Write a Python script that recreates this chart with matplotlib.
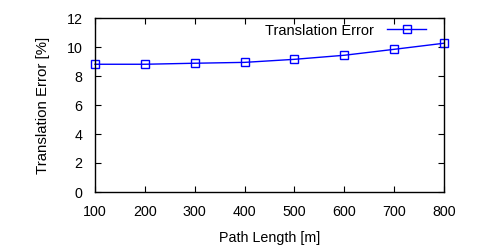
import matplotlib
matplotlib.use("Agg")
import matplotlib.pyplot as plt

plt.rcParams['font.family'] = ['Liberation Sans', 'DejaVu Sans']

path_length = [100, 200, 300, 400, 500, 600, 700, 800]
trans_error = [8.81, 8.81, 8.88, 8.94, 9.15, 9.43, 9.84, 10.26]
x_ticks = [100, 200, 300, 400, 500, 600, 700, 800]
y_ticks = [0, 2, 4, 6, 8, 10, 12]

fig = plt.figure(figsize=(5, 2.5), dpi=100)
ax = fig.add_axes([0.19, 0.232, 0.698, 0.696])

ax.plot(path_length, trans_error, color='#0000ff', linewidth=1,
        marker='s', markersize=6, markerfacecolor='none',
        markeredgecolor='#0000ff', markeredgewidth=1,
        label='Translation Error', clip_on=False)

ax.set_xlim(100, 800)
ax.set_ylim(0, 12)
ax.set_xticks(x_ticks)
ax.set_yticks(y_ticks)
ax.tick_params(direction='in', top=True, right=True, length=4,
               labelsize=10.3, pad=9)
for s in ax.spines.values():
    s.set_linewidth(1)

ax.set_xlabel('Path Length [m]', fontsize=10.3, labelpad=9)
ax.set_ylabel('Translation Error [%]', fontsize=10.8, labelpad=12)

ax.legend(loc='upper right', frameon=False, fontsize=10.5,
          markerfirst=False, handlelength=2.7, handletextpad=0.9,
          borderaxespad=0.1, bbox_to_anchor=(0.97, 1.01))

fig.savefig('out.png', dpi=100)
